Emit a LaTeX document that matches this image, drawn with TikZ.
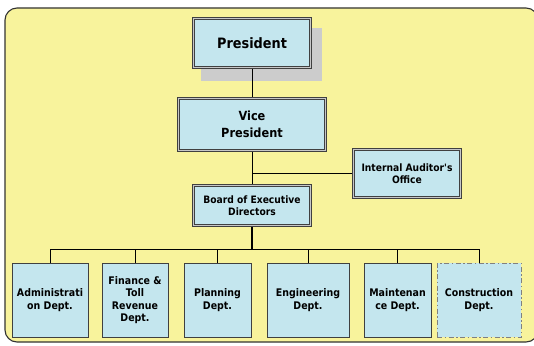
\documentclass[tikz,border=0pt]{standalone}
\usepackage{fontspec}
\setmainfont{DejaVu Sans Condensed}
\begin{document}
\begin{tikzpicture}[x=1pt,y=-1pt,
  every node/.style={font=\bfseries, text=black, align=center, inner sep=0pt},
  topbox/.style={draw=black!75, line width=0.8pt, fill=black!22,
    path picture={
      \fill[boxfill, draw=black!75, line width=0.8pt]
        ([shift={(2.2,2.2)}]path picture bounding box.north west) rectangle
        ([shift={(-2.2,-2.2)}]path picture bounding box.south east);
    }},
  deptbox/.style={draw=black!75, line width=0.9pt, fill=boxfill, minimum height=74pt},
  link/.style={draw=black, line width=0.9pt}
]
\definecolor{bgyellow}{HTML}{F8F39C}
\definecolor{boxfill}{HTML}{C4E6EE}
\useasboundingbox (0,0) rectangle (534,345);
\fill[white] (0,0) rectangle (534,345);
\begin{scope}
\clip (0,0) rectangle (534,345);
\draw[fill=bgyellow, draw=black!80, line width=1.1pt, rounded corners=12pt] (5,8) rectangle (538,342);
\end{scope}
% shadow
\fill[black!20] (200.5,28.5) rectangle (321.5,81);
% top boxes
\node[topbox, minimum width=119pt, minimum height=51pt, font=\bfseries\fontsize{14.3}{17}\selectfont] (pres) at (252,43) {President};
\node[topbox, minimum width=149pt, minimum height=54pt, font=\bfseries\fontsize{12.6}{16.5}\selectfont] (vp) at (252,124.5) {Vice\\President};
\node[topbox, minimum width=109pt, minimum height=50pt, font=\bfseries\fontsize{10.2}{12.3}\selectfont] (aud) at (407,173.5) {Internal Auditor\textquotesingle s\\Office};
\node[topbox, minimum width=119pt, minimum height=42pt, font=\bfseries\fontsize{10.2}{11.8}\selectfont] (board) at (252,205.5) {Board of Executive\\Directors};
% departments
\begin{scope}[every node/.append style={font=\bfseries\fontsize{10.5}{12.5}\selectfont}]
\node[deptbox, minimum width=76pt] (adm) at (50,300) {Administrati\\on Dept.};
\node[deptbox, minimum width=66pt] (fin) at (135,300) {Finance \&\\Toll\\Revenue\\Dept.};
\node[deptbox, minimum width=67pt] (pla) at (217.5,300) {Planning\\Dept.};
\node[deptbox, minimum width=82pt] (eng) at (308,300) {Engineering\\Dept.};
\node[deptbox, minimum width=67pt] (mai) at (397.5,300) {Maintenan\\ce Dept.};
\node[deptbox, minimum width=84pt, draw=black!50, line width=0.8pt, dash pattern=on 5pt off 2.5pt on 1.5pt off 2.5pt] (con) at (479,300) {Construction\\Dept.};
\end{scope}
% connectors
\coordinate (branch) at (252,173);
\coordinate (bus) at (252,249);
\draw[link] (pres.south) -- (vp.north);
\draw[link] (vp.south) -- (board.north);
\draw[link] (branch) -- (aud.west |- branch);
\draw[draw=black, line width=1.8pt] (board.south) -- (bus);
\draw[link] (bus -| adm.north) -- (bus -| con.north);
\foreach \d in {adm,fin,pla,eng,mai,con}{
  \draw[link] (\d.north) -- (\d.north |- bus);
}
\end{tikzpicture}
\end{document}
